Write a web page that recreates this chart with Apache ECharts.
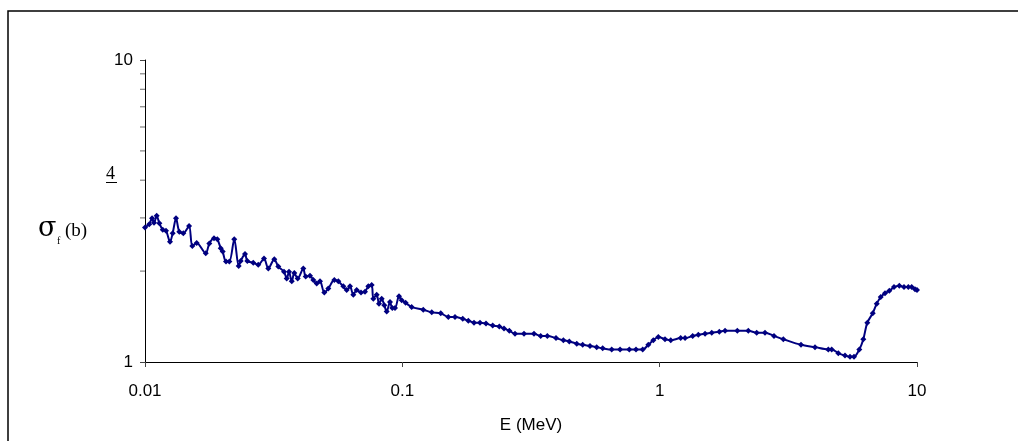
<!DOCTYPE html>
<html>
<head>
<meta charset="utf-8">
<script src="https://cdn.jsdelivr.net/npm/echarts@6.0.0/dist/echarts.min.js"></script>
<style>
  html, body { margin: 0; padding: 0; background: #fff; }
  #chart { width: 1018px; height: 441px; }
</style>
</head>
<body>
<div id="chart"></div>
<script>
// energy (MeV)
var energy = [
  0.0100, 0.01039, 0.01065, 0.01084, 0.01110, 0.01137, 0.01172, 0.01207, 0.01251, 0.01281,
  0.01320, 0.01359, 0.01409, 0.01483, 0.01527, 0.01588, 0.01722, 0.01778, 0.01854, 0.0191,
  0.01969, 0.02004, 0.02064, 0.02127, 0.02223, 0.02312, 0.02354, 0.02447, 0.02498, 0.02635,
  0.02755, 0.02900, 0.03014, 0.03180, 0.03296, 0.03469, 0.03554, 0.03628, 0.03717, 0.03804,
  0.03921, 0.04123, 0.04212, 0.04378, 0.04509, 0.04648, 0.04787, 0.04975, 0.05157, 0.05441,
  0.05639, 0.05897, 0.06079, 0.06261, 0.06449, 0.06648, 0.06909, 0.07161, 0.07375, 0.07603,
  0.07713, 0.07951, 0.08116, 0.08315, 0.08511, 0.08695, 0.08956, 0.09142, 0.09366, 0.09706,
  0.09945, 0.1030, 0.1087, 0.1206, 0.1301, 0.1410, 0.1509, 0.1602, 0.1717, 0.1805,
  0.1899, 0.2004, 0.2114, 0.2245, 0.2382, 0.2484, 0.2605, 0.2741, 0.2971, 0.3249,
  0.3449, 0.3659, 0.3956, 0.4224, 0.4456, 0.4761, 0.5023, 0.5362, 0.5692, 0.6005,
  0.6510, 0.7016, 0.7621, 0.8091, 0.8592, 0.9035, 0.9447, 0.9879, 1.049, 1.104,
  1.207, 1.255, 1.344, 1.413, 1.501, 1.594, 1.705, 1.795, 2.003, 2.211,
  2.383, 2.567, 2.782, 3.024, 3.542, 4.015, 4.523, 4.662, 4.945, 5.251,
  5.491, 5.691, 5.968, 6.187, 6.411, 6.729, 6.974, 7.228, 7.512, 7.806,
  8.142, 8.537, 8.903, 9.253, 9.538, 9.825, 10.0
];

// fission cross section sigma_f (b)
var sigmaF = [
  2.79, 2.86, 2.99, 2.89, 3.05, 2.88, 2.74, 2.72, 2.50, 2.67,
  2.99, 2.70, 2.67, 2.82, 2.42, 2.48, 2.29, 2.47, 2.57, 2.55,
  2.38, 2.32, 2.15, 2.15, 2.55, 2.08, 2.16, 2.28, 2.16, 2.13,
  2.10, 2.20, 2.04, 2.19, 2.07, 1.99, 1.89, 1.99, 1.85, 1.97,
  1.89, 2.04, 1.92, 1.93, 1.87, 1.82, 1.85, 1.70, 1.75, 1.87,
  1.85, 1.78, 1.73, 1.78, 1.67, 1.73, 1.70, 1.71, 1.78, 1.80,
  1.62, 1.67, 1.56, 1.62, 1.54, 1.47, 1.58, 1.51, 1.51, 1.65,
  1.60, 1.57, 1.52, 1.49, 1.46, 1.45, 1.41, 1.41, 1.39, 1.37,
  1.35, 1.35, 1.34, 1.32, 1.31, 1.29, 1.27, 1.24, 1.24, 1.24,
  1.22, 1.22, 1.20, 1.18, 1.17, 1.15, 1.14, 1.13, 1.12, 1.11,
  1.10, 1.10, 1.10, 1.10, 1.10, 1.14, 1.18, 1.21, 1.19, 1.18,
  1.20, 1.20, 1.22, 1.23, 1.24, 1.25, 1.26, 1.27, 1.27, 1.27,
  1.25, 1.25, 1.22, 1.19, 1.14, 1.12, 1.10, 1.10, 1.07, 1.05,
  1.04, 1.04, 1.10, 1.19, 1.35, 1.45, 1.56, 1.64, 1.69, 1.72,
  1.77, 1.79, 1.77, 1.77, 1.77, 1.74, 1.73
];

var xTicks = [0.01, 0.1, 1, 10];
var yMinorTicks = [2, 3, 4, 5, 6, 7, 8, 9];

var points = energy.map(function (e, i) { return [e, sigmaF[i]]; });

var sansFont = '"Liberation Sans", Arial, sans-serif';
var serifFont = '"Liberation Serif", "Times New Roman", serif';

var myChart = echarts.init(document.getElementById('chart'), null, {renderer: 'canvas'});

option = {
    animation: false,
    backgroundColor: '#fff',
    grid: {left: 145, right: 101, top: 60, bottom: 79},
    xAxis: {
        type: 'log',
        logBase: 10,
        min: xTicks[0],
        max: xTicks[xTicks.length - 1],
        name: 'E (MeV)',
        nameLocation: 'middle',
        nameGap: 55,
        nameTextStyle: {color: '#000', fontSize: 17, fontFamily: sansFont},
        axisLine: {lineStyle: {color: '#000', width: 1}},
        axisTick: {show: true, inside: false, length: 5, lineStyle: {color: '#444'}},
        axisLabel: {color: '#000', fontSize: 17, fontFamily: sansFont, margin: 21},
        splitLine: {show: false}
    },
    yAxis: {
        type: 'log',
        logBase: 10,
        min: 1,
        max: 10,
        axisLine: {show: true, lineStyle: {color: '#000', width: 1}},
        axisTick: {show: true, inside: false, length: 5, lineStyle: {color: '#444'}},
        axisLabel: {color: '#000', fontSize: 17, fontFamily: sansFont, margin: 12},
        splitLine: {show: false}
    },
    graphic: [
        {
            type: 'rect',
            shape: {x: 8, y: 11, width: 1100, height: 500},
            style: {fill: null, stroke: '#000', lineWidth: 1.5},
            silent: true
        },
        {
            type: 'text',
            left: 106, top: 165,
            style: {text: '4', font: '18px ' + serifFont, fill: '#000'}
        },
        {
            type: 'line',
            shape: {x1: 106, y1: 182.5, x2: 117, y2: 182.5},
            style: {stroke: '#000', lineWidth: 1}
        },
        {
            type: 'text',
            left: 38, top: 215,
            style: {text: 'σ', font: '27px "DejaVu Serif", serif', fill: '#000'}
        },
        {
            type: 'text',
            left: 57, top: 236,
            style: {text: 'f', font: '10px ' + serifFont, fill: '#000'}
        },
        {
            type: 'text',
            left: 65, top: 222,
            style: {text: '(b)', font: '19px ' + serifFont, fill: '#000'}
        }
    ],
    series: [
        {
            name: 'sigma_f',
            type: 'line',
            data: points,
            smooth: 0.3,
            symbol: 'diamond',
            symbolSize: 6,
            showAllSymbol: true,
            lineStyle: {color: '#000080', width: 2},
            itemStyle: {color: '#000080'},
            z: 3
        },
        {
            // minor ticks of the y axis (2..9)
            name: 'yMinor',
            type: 'scatter',
            data: yMinorTicks.map(function (v) { return [xTicks[0], v]; }),
            symbol: 'rect',
            symbolSize: [5, 1],
            symbolOffset: [-2.5, 0],
            itemStyle: {color: '#444'},
            clip: false,
            silent: true,
            z: 1
        }
    ]
};

myChart.setOption(option);
</script>
</body>
</html>
